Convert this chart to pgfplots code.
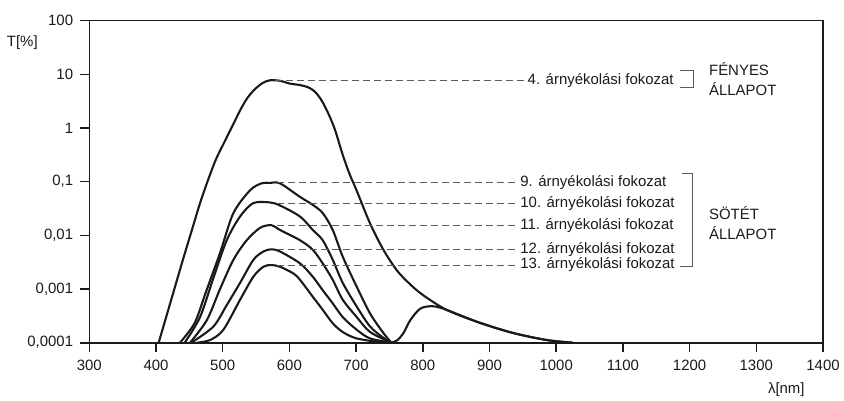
\documentclass[border=0pt]{standalone}
\usepackage{fontspec}
\setmainfont{Liberation Sans}
\usepackage{pgfplots}
\pgfplotsset{compat=1.18}
\definecolor{ink}{HTML}{1A1A1A}
\definecolor{guidegray}{HTML}{5A5A5A}
\begin{document}
\fontsize{15}{18}\selectfont
\begin{tikzpicture}
\useasboundingbox (-89.3bp,-58.3bp) rectangle (754.7bp,342.7bp);
\begin{axis}[
  scale only axis, width=733.7bp, height=322bp,
  xmin=300, xmax=1400, ymin=1e-4, ymax=100,
  ymode=log,
  axis line style={line width=1.6pt, ink},
  xtick={300,400,...,1400},
  ytick={1e-4,1e-3,0.01,0.1,1,10,100},
  yticklabels={{0,0001},{0,001},{0,01},{0,1},{1},{10},{100}},
  yminorticks=false,
  xtick pos=left, ytick pos=left,
  tick align=outside,
  major tick length=9bp,
  every tick/.style={line width=1.6pt, ink},
  /pgf/number format/assume math mode=true,
  /pgf/number format/1000 sep={},
  xticklabel style={yshift=-3bp, text=ink},
  yticklabel style={xshift=-2bp, text=ink},
  smooth, tension=0.5,
]
% curve 4 (bright state)
\addplot[ink, line width=2.1pt] coordinates {
 (404,1e-4) (420,0.000479) (440,0.00339) (455,0.0141) (466,0.0398) (478,0.107) (490,0.263)
 (503,0.562) (515,1.122) (527,2.239) (537,3.63) (548,5.25) (560,6.92) (571,7.76) (586,7.59)
 (600,6.76) (616,6.31) (628,5.75) (638,4.79) (648,3.31) (658,1.905) (668,0.955) (680,0.316)
 (690,0.141) (701,0.0676) (721,0.0166) (741,0.00537) (761,0.00224) (780,0.00126)
 (800,0.000776) (836,0.000407) (886,0.000234) (936,0.000151) (986,0.000112) (1025,0.0001)};
% curve 9
\addplot[ink, line width=2.1pt] coordinates {
 (436,1e-4) (458,0.000234) (475,0.00089) (496,0.0047) (516,0.026) (541,0.069) (558,0.093)
 (571,0.095) (586,0.093) (616,0.052) (635,0.037) (650,0.026) (665,0.0126) (680,0.004)
 (701,0.0011) (721,0.00035) (741,0.000151) (753,1e-4)};
% curve 10
\addplot[ink, line width=2.1pt] coordinates {
 (443,1e-4) (466,0.0003) (486,0.0016) (506,0.0081) (526,0.0224) (546,0.040) (571,0.041)
 (586,0.036) (616,0.0224) (635,0.0126) (650,0.0081) (665,0.0035) (680,0.0013)
 (701,0.00047) (721,0.0002) (741,0.000123) (753,1e-4)};
% curve 11
\addplot[ink, line width=2.1pt] coordinates {
 (451,1e-4) (476,0.00026) (496,0.001) (516,0.0035) (536,0.0081) (556,0.0138) (573,0.0155)
 (586,0.0126) (616,0.0081) (635,0.0054) (650,0.003) (665,0.00148) (680,0.00063)
 (701,0.0003) (721,0.000158) (753,1e-4)};
% curve 12
\addplot[ink, line width=2.1pt] coordinates {
 (453,1e-4) (486,0.0002) (506,0.0005) (526,0.0013) (546,0.0035) (561,0.005) (573,0.0055)
 (586,0.005) (616,0.003) (635,0.0017) (650,0.00095) (665,0.00054) (680,0.0003)
 (701,0.000174) (721,0.00012) (753,1e-4)};
% curve 13
\addplot[ink, line width=2.1pt] coordinates {
 (461,1e-4) (481,0.000112) (501,0.000174) (526,0.00063) (546,0.0017) (561,0.0026) (573,0.0028)
 (586,0.0026) (606,0.00195) (616,0.00148) (635,0.00072) (650,0.00041) (665,0.00023)
 (680,0.000158) (701,0.00012) (740,1e-4)};
% dark-state near-infrared bump
\addplot[ink, line width=2.1pt] coordinates {
 (753,1e-4) (762,0.000112) (771,0.000151) (781,0.00026) (796,0.00043) (813,0.00048)
 (826,0.00045) (840,0.00039) (886,0.000234) (936,0.000151) (986,0.000112) (1025,0.0001)};
% dashed guide lines
\addplot[guidegray, line width=0.8pt, dash pattern=on 7bp off 4bp, sharp plot] coordinates {(578,7.73) (951,7.73)};
\addplot[guidegray, line width=0.8pt, dash pattern=on 7bp off 4bp, sharp plot] coordinates {(581,0.095) (940,0.095)};
\addplot[guidegray, line width=0.8pt, dash pattern=on 7bp off 4bp, sharp plot] coordinates {(581,0.040) (940,0.040)};
\addplot[guidegray, line width=0.8pt, dash pattern=on 7bp off 4bp, sharp plot] coordinates {(581,0.0155) (940,0.0155)};
\addplot[guidegray, line width=0.8pt, dash pattern=on 7bp off 4bp, sharp plot] coordinates {(581,0.0054) (940,0.0054)};
\addplot[guidegray, line width=0.8pt, dash pattern=on 7bp off 4bp, sharp plot] coordinates {(581,0.0028) (940,0.0028)};
% labels
\node[anchor=west, inner sep=0, text=ink] at (axis cs:957,7.73) {4. árnyékolási fokozat};
\node[anchor=west, inner sep=0, text=ink] at (axis cs:946,0.095) {9. árnyékolási fokozat};
\node[anchor=west, inner sep=0, text=ink] at (axis cs:946,0.040) {10. árnyékolási fokozat};
\node[anchor=west, inner sep=0, text=ink] at (axis cs:946,0.0155) {11. árnyékolási fokozat};
\node[anchor=west, inner sep=0, text=ink] at (axis cs:946,0.0054) {12. árnyékolási fokozat};
\node[anchor=west, inner sep=0, text=ink] at (axis cs:946,0.0028) {13. árnyékolási fokozat};
% brackets
\draw[guidegray, line width=0.8pt] (axis cs:1186,12) -- (axis cs:1205,12) -- (axis cs:1205,5.78) -- (axis cs:1186,5.78);
\draw[guidegray, line width=0.8pt] (axis cs:1188,0.143) -- (axis cs:1204,0.143) -- (axis cs:1204,0.0026) -- (axis cs:1186,0.0026);
\node[anchor=west, inner sep=0, align=left, text=ink, font=\fontsize{15}{20}\selectfont] at (axis cs:1229,8.1) {FÉNYES\\ÁLLAPOT};
\node[anchor=west, inner sep=0, align=left, text=ink, font=\fontsize{15}{20}\selectfont] at (axis cs:1229,0.017) {SÖTÉT\\ÁLLAPOT};
\end{axis}
\node[text=ink, inner sep=0] at (-67bp,300bp) {T[\%]};
\node[text=ink, inner sep=0] at (697bp,-47bp) {λ[nm]};
\end{tikzpicture}
\end{document}
